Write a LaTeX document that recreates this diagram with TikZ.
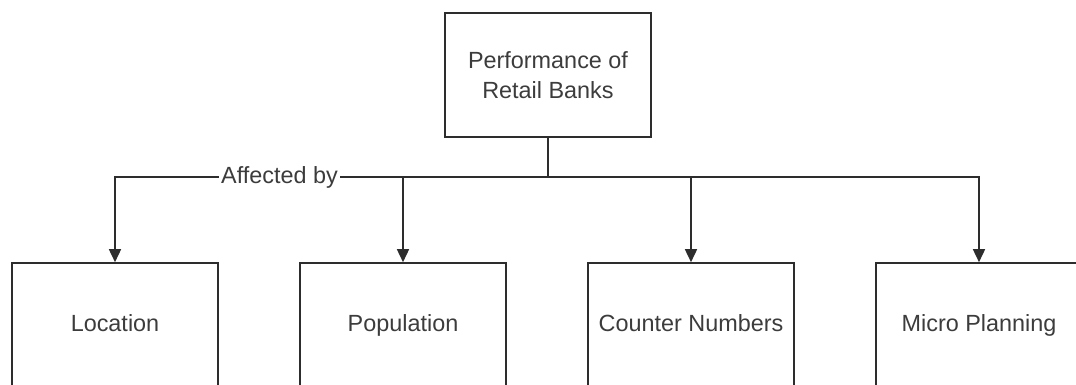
\documentclass[tikz,border=0pt]{standalone}
\usepackage{fontspec}
\setmainfont{Liberation Sans}
\usepackage{tikz}
\usetikzlibrary{
  arrows.meta,
  positioning,
  calc
}
\tikzset{
  every node/.style={inner sep=2pt}
}
\definecolor{lineGray}{RGB}{45, 45, 45}
\definecolor{textGray}{RGB}{60, 60, 60}

\begin{document}
\begin{tikzpicture}[
    x=0.5pt, y=-0.5pt,
    font=\fontsize{11.7}{15}\selectfont,
    node distance=63pt and 40.2pt,
    box/.style={rectangle, draw=lineGray, line width=0.8pt, align=center, text=textGray, minimum width=103pt, minimum height=62pt},
    leaf/.style={box, text height=8.6pt, text depth=2.6pt},
    link/.style={draw=lineGray, line width=0.8pt},
    arrow/.style={-{Triangle[width=6pt,length=6.5pt]}, draw=lineGray, line width=0.8pt}
]
    \useasboundingbox (0,0) rectangle (1076,385);
    \clip (0,0) rectangle (1076,385);

    \node[box] (perf) at (548,75) {Performance of\\Retail Banks};

    \node[leaf] (loc) at (115,325) {Location};
    \node[leaf, right=of loc] (pop) {Population};
    \node[leaf, right=of pop] (cnt) {Counter Numbers};
    \node[leaf, right=of cnt] (micro) {Micro Planning};

    \coordinate (bus) at (perf.south |- 0,177);

    \draw[link] (perf.south) -- (bus);
    \draw[arrow] (bus) -| (loc.north)
        node[pos=0.31, fill=white, text=textGray, inner sep=1pt] (aff) {Affected by};
    \draw[arrow] (bus) -| (pop.north);
    \draw[arrow] (bus) -| (cnt.north);
    \draw[arrow] (bus) -| (micro.north);

\end{tikzpicture}
\end{document}
